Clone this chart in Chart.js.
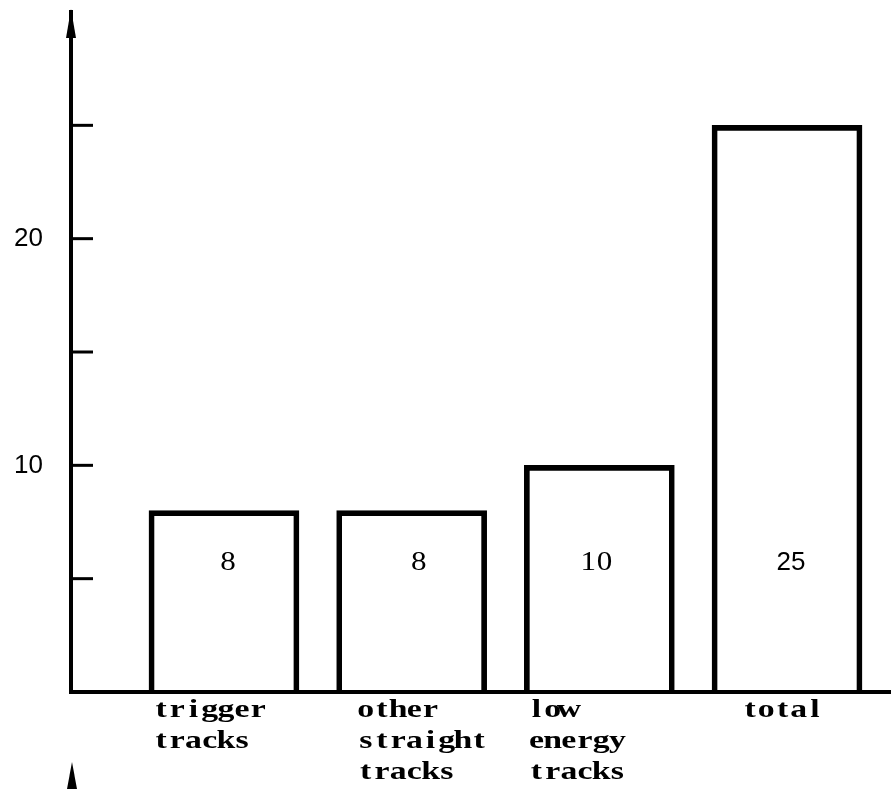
<!DOCTYPE html>
<html lang="en">
<head>
<meta charset="UTF-8">
<title>Tracks</title>
<script src="https://cdn.jsdelivr.net/npm/chart.js"></script>
<style>
    html, body { margin: 0; padding: 0; background: #fff; }
    canvas { display: block; }
</style>
</head>
<body>
<canvas id="tracksChart" width="891" height="789"></canvas>
<script>
    // data
    const categories = [["trigger", "tracks"], ["other", "straight", "tracks"], ["low", "energy", "tracks"], ["total"]];
    const counts = [8, 8, 10, 25];
    const tickValues = [5, 10, 15, 20, 25];
    const labelledTicks = [10, 20];

    // layout bits (px offsets of the hand-placed labels)
    const labelShift = [-71, -54, -71, -45];
    const valueShift = [4, 7, -3, 4];
    const valueTypewriter = [true, true, true, false];
    const valueLevel = 5.7;
    const cell = 16.2;

    // typewriter look: serif glyphs stretched onto a fixed pitch
    function typeText(ctx, text, x, y, stretch) {
        [...text].forEach((ch, k) => {
            ctx.save();
            ctx.translate(x + cell * (k + 0.5), y);
            ctx.scale(stretch, 1);
            ctx.fillText(ch, 0, 0);
            ctx.restore();
        });
    }

    const sketchMarks = {
        id: 'sketchMarks',
        afterDraw(chart) {
            const { ctx, chartArea, scales: { x, y } } = chart;
            const ax = chartArea.left;
            ctx.save();
            ctx.strokeStyle = '#000';
            ctx.fillStyle = '#000';

            // ticks pointing into the plot
            ctx.lineWidth = 3;
            tickValues.forEach(v => {
                const py = y.getPixelForValue(v);
                ctx.beginPath();
                ctx.moveTo(ax, py);
                ctx.lineTo(ax + 22, py);
                ctx.stroke();
            });

            // arrow head on the y axis
            ctx.beginPath();
            ctx.moveTo(ax, chartArea.top - 3);
            ctx.lineTo(ax + 5, chartArea.top + 26);
            ctx.lineTo(ax - 5, chartArea.top + 26);
            ctx.closePath();
            ctx.fill();

            // stray arrow of the next figure, bottom left
            ctx.beginPath();
            ctx.moveTo(ax + 1, 762);
            ctx.lineTo(ax + 6, 789);
            ctx.lineTo(ax - 4, 789);
            ctx.closePath();
            ctx.fill();

            // numbers inside the bars
            ctx.textAlign = 'center';
            ctx.textBaseline = 'middle';
            counts.forEach((c, i) => {
                const s = String(c);
                const cx = x.getPixelForValue(i) + valueShift[i];
                const cy = y.getPixelForValue(valueLevel);
                if (valueTypewriter[i]) {
                    ctx.font = '27px "Liberation Serif"';
                    typeText(ctx, s, cx - cell * s.length / 2, cy, 1.15);
                } else {
                    ctx.font = '26px "Liberation Sans"';
                    ctx.fillText(s, cx, cy);
                }
            });

            // category labels, left aligned like the typewriter text
            ctx.textBaseline = 'alphabetic';
            ctx.font = 'bold 26px "Liberation Serif"';
            const base = chartArea.bottom + 25;
            categories.forEach((lines, i) => {
                const lx = x.getPixelForValue(i) + labelShift[i];
                lines.forEach((t, k) => typeText(ctx, t, lx, base + k * 31, 1.3));
            });
            ctx.restore();
        }
    };

    new Chart(document.getElementById('tracksChart'), {
        type: 'bar',
        data: {
            datasets: [{
                data: counts.map((c, i) => ({ x: i, y: c })),
                backgroundColor: 'rgba(255,255,255,0)',
                borderColor: '#000',
                borderWidth: 5,
                borderSkipped: 'bottom',
                barThickness: 150
            }]
        },
        options: {
            responsive: false,
            animation: false,
            layout: { padding: { top: 12, left: 0, right: 0, bottom: 0 } },
            plugins: {
                legend: { display: false },
                tooltip: { enabled: false }
            },
            scales: {
                x: {
                    type: 'linear',
                    offset: false,
                    min: -0.815,
                    max: 3.554,
                    grid: { display: false, drawTicks: false },
                    border: { display: true, color: '#000', width: 4 },
                    ticks: { display: false },
                    afterFit: s => { s.height = 97; s.paddingLeft = 0; s.paddingRight = 0; }
                },
                y: {
                    min: 0,
                    max: 30,
                    grid: { display: false, drawTicks: false },
                    border: { display: true, color: '#000', width: 4 },
                    ticks: {
                        stepSize: 5,
                        padding: 28,
                        color: '#000',
                        font: { family: 'Liberation Sans', size: 26 },
                        callback: v => labelledTicks.includes(v) ? v : ''
                    },
                    afterFit: s => { s.width = 71; s.paddingTop = 0; s.paddingBottom = 0; }
                }
            }
        },
        plugins: [sketchMarks]
    });
</script>
</body>
</html>
